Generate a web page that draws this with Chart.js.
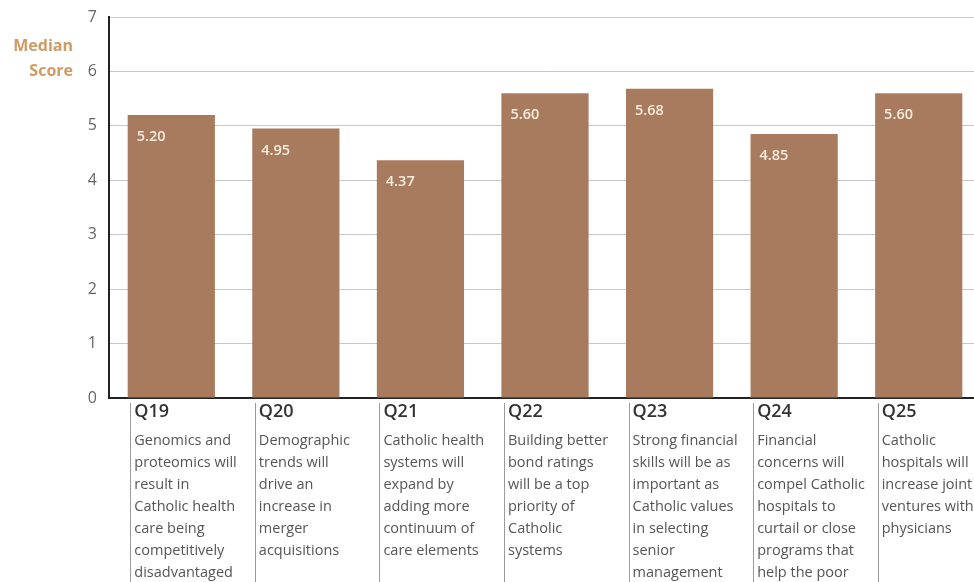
<!DOCTYPE html>
<html>
<head>
<meta charset="utf-8">
<script src="https://cdn.jsdelivr.net/npm/chart.js@4/dist/chart.umd.min.js"></script>
<style>
  html, body { margin: 0; padding: 0; background: #fff; overflow: hidden; }
  #wrap { width: 990px; height: 582px; position: relative; }
</style>
</head>
<body>
<div id="wrap"><canvas id="myChart"></canvas></div>
<script>
var codes = ["Q19", "Q20", "Q21", "Q22", "Q23", "Q24", "Q25"]
var scores = [5.20, 4.95, 4.37, 5.60, 5.68, 4.85, 5.60]
var descriptions = [
  ["Genomics and", "proteomics will", "result in", "Catholic health", "care being", "competitively", "disadvantaged"],
  ["Demographic", "trends will", "drive an", "increase in", "merger", "acquisitions"],
  ["Catholic health", "systems will", "expand by", "adding more", "continuum of", "care elements"],
  ["Building better", "bond ratings", "will be a top", "priority of", "Catholic", "systems"],
  ["Strong financial", "skills will be as", "important as", "Catholic values", "in selecting", "senior", "management"],
  ["Financial", "concerns will", "compel Catholic", "hospitals to", "curtail or close", "programs that", "help the poor"],
  ["Catholic", "hospitals will", "increase joint", "ventures with", "physicians"]
]
var yTitle = ["Median", "Score"]

var barColor = "#a87b5e"

// value labels, y title and the category captions under the axis
var extras = {
  id: "extras",
  afterDatasetsDraw: function(chart){
    var ctx = chart.ctx
    var meta = chart.getDatasetMeta(0)
    ctx.save()
    ctx.fillStyle = "#f6ecdd"
    ctx.font = "600 14.5px 'Open Sans', sans-serif"
    ctx.textAlign = "left"
    ctx.textBaseline = "middle"
    meta.data.forEach(function(bar, i){
      ctx.fillText(scores[i].toFixed(2), bar.x - bar.width/2 + 9, bar.y + 22)
    })
    ctx.restore()
  },
  afterDraw: function(chart){
    var ctx = chart.ctx
    var x = chart.scales.x
    ctx.save()

    ctx.fillStyle = "#d09a62"
    ctx.font = "bold 16px 'Open Sans', sans-serif"
    ctx.textAlign = "right"
    ctx.textBaseline = "middle"
    ctx.fillText(yTitle[0], 73, 46)
    ctx.fillText(yTitle[1], 73, 71)

    var bottom = chart.chartArea.bottom
    for(var i=0;i<codes.length;i++){
      var cx = x.getPixelForTick(i)
      var sx = Math.round(cx - 41) + 0.5
      ctx.strokeStyle = "#9a9a9a"
      ctx.lineWidth = 1
      ctx.beginPath()
      ctx.moveTo(sx, bottom + 5)
      ctx.lineTo(sx, chart.height)
      ctx.stroke()

      ctx.textAlign = "left"
      ctx.textBaseline = "middle"
      ctx.fillStyle = "#333"
      ctx.font = "600 18px 'Open Sans', sans-serif"
      ctx.fillText(codes[i], cx - 37, bottom + 14)

      ctx.fillStyle = "#555"
      ctx.font = "14.5px 'Open Sans', sans-serif"
      var lines = descriptions[i]
      for(var j=0;j<lines.length;j++){
        ctx.fillText(lines[j], cx - 37, bottom + 43 + j*22)
      }
    }
    ctx.restore()
  }
}

var myChart = new Chart("myChart", {
  type: "bar",
  data: {
    labels: codes,
    datasets: [{
      data: scores,
      backgroundColor: barColor,
      borderWidth: 0,
      categoryPercentage: 1,
      barPercentage: 0.7
    }]
  },
  options: {
    responsive: true,
    maintainAspectRatio: false,
    animation: false,
    layout: { padding: { top: 17, right: 9, bottom: 176, left: 0 } },
    plugins: {
      legend: { display: false },
      tooltip: { enabled: false }
    },
    scales: {
      x: {
        grid: { display: false },
        border: { color: "#222", width: 2 },
        ticks: { display: false }
      },
      y: {
        min: 0,
        max: 7,
        afterFit: function(scale){
          scale.width = 109
          scale.paddingTop = 0
          scale.paddingBottom = 0
        },
        grid: { color: "#c8c8c8", lineWidth: 1, drawTicks: false },
        border: { color: "#222", width: 2 },
        ticks: {
          stepSize: 1,
          padding: 12,
          color: "#666",
          font: { family: "'Open Sans', sans-serif", size: 16 }
        }
      }
    }
  },
  plugins: [extras]
})
</script>
</body>
</html>
